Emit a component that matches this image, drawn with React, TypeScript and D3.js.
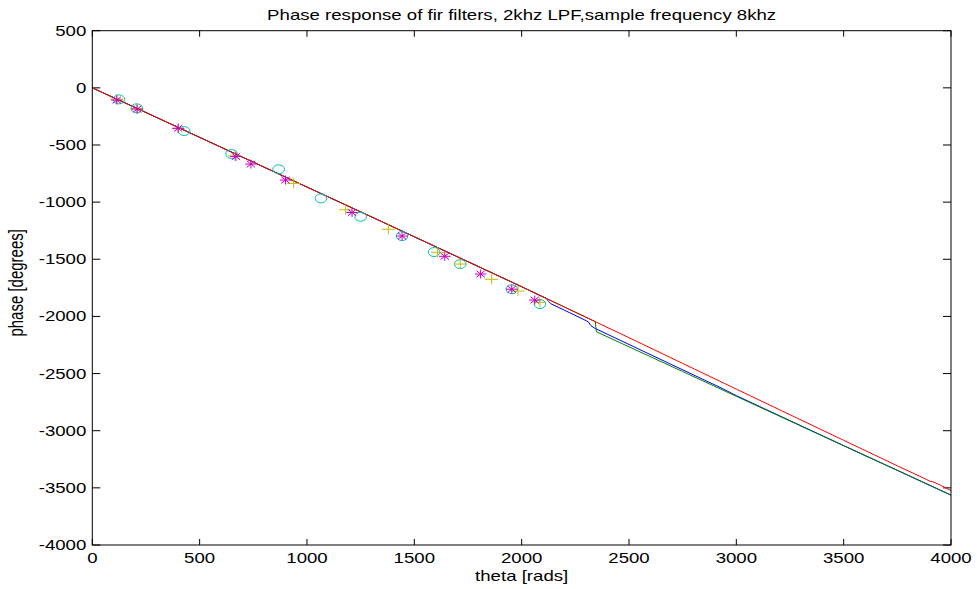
import React from 'react';
import * as d3 from 'd3';

type P = [number, number];

const xTicks = [0, 500, 1000, 1500, 2000, 2500, 3000, 3500, 4000];
const yTicks = [500, 0, -500, -1000, -1500, -2000, -2500, -3000, -3500, -4000];

const titleText = 'Phase response of fir filters, 2khz LPF,sample frequency 8khz';
const xLabel = 'theta [rads]';
const yLabel = 'phase [degrees]';

const redLine: P[] = [
  [0, 0], [250, -216], [500, -433], [750, -650], [1000, -868], [1250, -1085], [1500, -1303],
  [1750, -1521], [2000, -1740], [2250, -1963], [2500, -2186], [2750, -2411], [3000, -2636],
  [3250, -2860], [3500, -3084], [3750, -3307], [3880, -3421], [3900, -3441], [3915, -3446],
  [3950, -3476], [4000, -3524],
];

const blueLine: P[] = [
  [0, 0], [250, -216], [500, -433], [750, -650], [1000, -868], [1250, -1085], [1500, -1303],
  [1750, -1521], [2000, -1740], [2115, -1843], [2125, -1868], [2135, -1888], [2200, -1946],
  [2300, -2037], [2312, -2050], [2322, -2080], [2340, -2103], [2500, -2245], [2700, -2423],
  [2924, -2621], [3000, -2693], [3250, -2912], [3500, -3130], [3750, -3346], [4000, -3563],
];

const greenLine: P[] = [
  [0, 0], [250, -216], [500, -433], [750, -650], [1000, -868], [1250, -1085], [1500, -1303],
  [1750, -1521], [2000, -1740], [2250, -1963], [2343, -2046], [2348, -2134], [2500, -2266],
  [2750, -2482], [3000, -2699], [3250, -2915], [3500, -3132], [3750, -3348], [4000, -3565],
];

const circlePts: P[] = [
  [124, -101], [207, -179], [428, -378], [649, -579], [868, -713], [1065, -967],
  [1250, -1128], [1443, -1297], [1592, -1437], [1714, -1542], [1954, -1762], [2085, -1892],
];

const plusPts: P[] = [
  [114, -98], [208, -181], [400, -354], [664, -595], [938, -836], [1180, -1067],
  [1379, -1237], [1608, -1439], [1714, -1542], [1860, -1675], [1983, -1778], [2085, -1877],
];

const starPts: P[] = [
  [114, -107], [209, -186], [400, -354], [669, -601], [739, -667], [900, -807],
  [1210, -1091], [1443, -1297], [1642, -1474], [1809, -1629], [1954, -1762], [2061, -1857],
];

const SX = 1.33;
const FONT = '"Liberation Sans", Arial, Helvetica, sans-serif';

export default function App() {
  const W = 977;
  const H = 589;
  const left = 92.3, right = 951, top = 30.7, bottom = 545;
  const x = d3.scaleLinear().domain([0, 4000]).range([left, right]);
  const y = d3.scaleLinear().domain([-4000, 500]).range([bottom, top]);
  const line = d3.line<P>().x(d => x(d[0])).y(d => y(d[1]));

  const fs = 14;

  return (
    <svg width={W} height={H} style={{ position: 'absolute', left: 0, top: 0, background: '#fff' }}
      fontFamily={FONT}>
      <rect x={0} y={0} width={W} height={H} fill="#fff" />
      {xTicks.map(t => (
        <g key={'xt' + t}>
          <line x1={x(t)} x2={x(t)} y1={bottom} y2={bottom - 6} stroke="#000" strokeWidth={1} />
          <line x1={x(t)} x2={x(t)} y1={top} y2={top + 6} stroke="#000" strokeWidth={1} />
          <text transform={`translate(${x(t)},${563}) scale(${SX},1)`} textAnchor="middle"
            fontSize={fs} fill="#000">{t}</text>
        </g>
      ))}
      {yTicks.map(t => (
        <g key={'yt' + t}>
          <line x1={left} x2={left + 8} y1={y(t)} y2={y(t)} stroke="#000" strokeWidth={1} />
          <line x1={right} x2={right - 8} y1={y(t)} y2={y(t)} stroke="#000" strokeWidth={1} />
          <text transform={`translate(${left - 6},${y(t) + 5}) scale(${SX},1)`} textAnchor="end"
            fontSize={fs} fill="#000">{t}</text>
        </g>
      ))}
      <path d={line(blueLine) || ''} fill="none" stroke="#0000ff" strokeWidth={1} />
      <path d={line(greenLine) || ''} fill="none" stroke="#008000" strokeWidth={1} />
      <path d={line(redLine) || ''} fill="none" stroke="#ff0000" strokeWidth={1} />
      {circlePts.map((d, i) => (
        <ellipse key={'c' + i} cx={x(d[0])} cy={y(d[1])} rx={5.8} ry={4.5} fill="none"
          stroke="#00bfbf" strokeWidth={1} />
      ))}
      {plusPts.map((d, i) => {
        const cx = x(d[0]), cy = y(d[1]);
        return (
          <path key={'p' + i} d={`M${cx - 6.5},${cy}H${cx + 6.5}M${cx},${cy - 5}V${cy + 5}`}
            fill="none" stroke="#bfbf00" strokeWidth={1} />
        );
      })}
      {starPts.map((d, i) => {
        const cx = x(d[0]), cy = y(d[1]);
        const a = 5.8, b = 4.5, da = 4.2, db = 3.3;
        return (
          <path key={'s' + i}
            d={`M${cx - a},${cy}H${cx + a}M${cx},${cy - b}V${cy + b}M${cx - da},${cy - db}L${cx + da},${cy + db}M${cx - da},${cy + db}L${cx + da},${cy - db}`}
            fill="none" stroke="#bf00bf" strokeWidth={1} />
        );
      })}
      <rect x={left} y={top} width={right - left} height={bottom - top} fill="none" stroke="#000" strokeWidth={1} />
      <text transform={`translate(${(left + right) / 2},${20}) scale(${SX},1)`} textAnchor="middle"
        fontSize={14} fill="#000">{titleText}</text>
      <text transform={`translate(${(left + right) / 2},${581}) scale(${SX},1)`} textAnchor="middle"
        fontSize={14} fill="#000">{xLabel}</text>
      <text transform={`translate(${23},${(top + bottom) / 2 - 5}) rotate(-90) scale(1,${SX})`} textAnchor="middle"
        fontSize={15} fill="#000">{yLabel}</text>
    </svg>
  );
}
